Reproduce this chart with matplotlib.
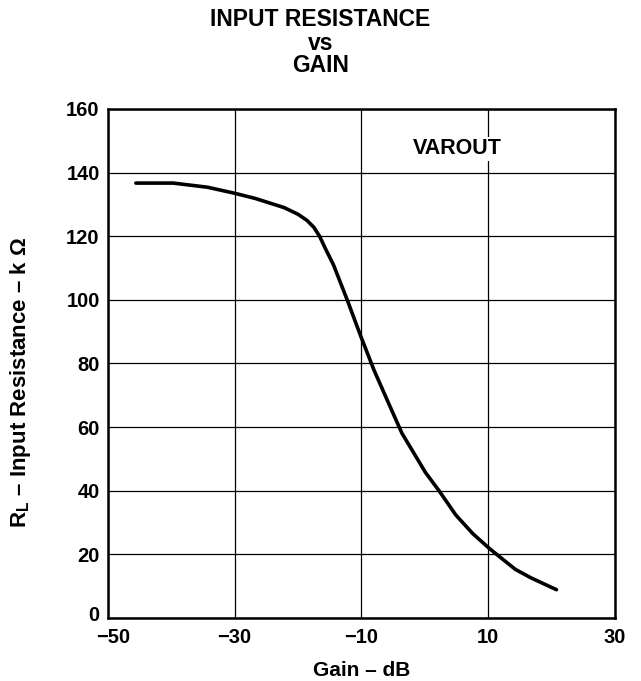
import matplotlib
matplotlib.use('Agg')
import matplotlib.pyplot as plt
import matplotlib.transforms as mtransforms
import numpy as np

plt.rcParams['font.family'] = ['Liberation Sans', 'DejaVu Sans']
plt.rcParams['mathtext.fontset'] = 'custom'
plt.rcParams['mathtext.bf'] = 'Liberation Sans:bold'
plt.rcParams['mathtext.rm'] = 'Liberation Sans:bold'

# curve
gain_db = [-45.6, -39.7, -34.3, -30.0, -26.8, -22.2, -20.0, -18.6, -17.5, -16.6,
           -15.6, -14.4, -12.2, -10.1, -8.0, -5.5, -3.6, 0.1, 2.3, 4.9, 7.6,
           10.3, 14.3, 16.8, 20.8]
r_in = [136.7, 136.7, 135.4, 133.5, 131.9, 129.0, 126.9, 125.0, 122.8, 120.0,
        115.8, 111.0, 99.8, 88.6, 77.9, 66.6, 58.1, 45.8, 39.9, 32.4, 26.5,
        21.7, 15.3, 12.6, 8.9]

xticks = [-50, -30, -10, 10, 30]
xtick_labels = ['\u221250', '\u221230', '\u221210', '10', '30']
yticks = [0, 20, 40, 60, 80, 100, 120, 140, 160]

fig = plt.figure(figsize=(6.41, 6.81), dpi=100)
ax = fig.add_axes([0.1685, 0.0925, 0.7905, 0.7475])

ax.plot(gain_db, r_in, color='black', lw=2.6, solid_capstyle='round',
        solid_joinstyle='round')

ax.set_xlim(-50, 30)
ax.set_ylim(0, 160)
ax.set_xticks(xticks)
ax.set_xticklabels(xtick_labels)
ax.set_yticks(yticks)
ax.grid(True, color='black', lw=0.9)
ax.tick_params(length=0, labelsize=14.5)
ax.tick_params(axis='x', pad=7)
ax.tick_params(axis='y', pad=6)
for lab in ax.get_xticklabels() + ax.get_yticklabels():
    lab.set_fontweight('bold')
for sp in ax.spines.values():
    sp.set_linewidth(1.8)

# nudge the corner labels apart like the original
ax.get_xticklabels()[0].set_transform(
    ax.get_xticklabels()[0].get_transform()
    + mtransforms.ScaledTranslation(5 / 100, 0, fig.dpi_scale_trans))
ax.get_yticklabels()[0].set_transform(
    ax.get_yticklabels()[0].get_transform()
    + mtransforms.ScaledTranslation(0, 5 / 100, fig.dpi_scale_trans))

ax.set_xlabel('Gain \u2013 dB', fontsize=15, fontweight='bold', labelpad=10)
ax.set_ylabel('R$_{\\mathbf{L}}$ \u2013 Input Resistance \u2013 k \u03a9', fontsize=16,
              fontweight='bold')
ax.yaxis.set_label_coords(-0.148, 0.462)

ax.text(5.2, 147.5, 'VAROUT', fontsize=15.5, fontweight='bold', ha='center', va='center',
        bbox=dict(facecolor='white', edgecolor='none', pad=1))

fig.text(0.5, 1 - 20 / 681, 'INPUT RESISTANCE', ha='center', va='center',
         fontsize=16.5, fontweight='bold')
fig.text(0.5, 1 - 43 / 681, 'vs', ha='center', va='center',
         fontsize=16.5, fontweight='bold')
fig.text(0.5, 1 - 66 / 681, 'GAIN', ha='center', va='center',
         fontsize=16.5, fontweight='bold')

fig.savefig('out.png', dpi=100)
